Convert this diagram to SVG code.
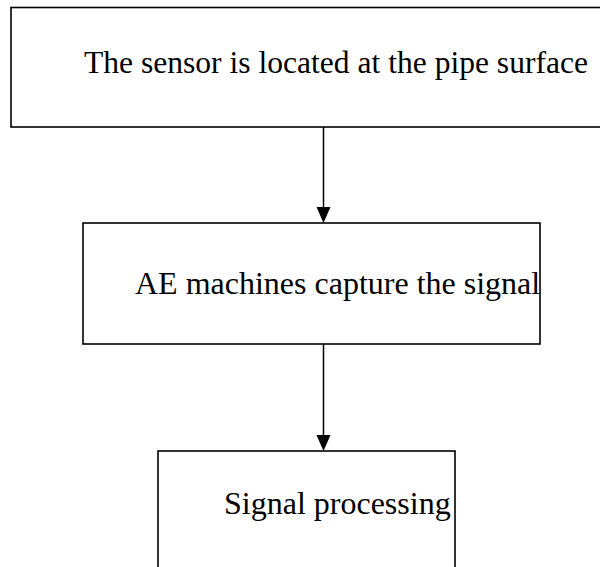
<svg xmlns="http://www.w3.org/2000/svg" width="600" height="567" viewBox="0 0 600 567">
<defs>
<style>
.box{fill:#fff;stroke:#000;stroke-width:1.6}
.lbl{font-family:"Liberation Serif","Times New Roman",serif;font-size:32px;fill:#000}
.conn{stroke:#000;stroke-width:1.5;fill:none}
.head{fill:#000}
</style>
</defs>
<rect width="600" height="567" fill="#fff"/>
<g id="node-sensor">
<rect class="box" x="11" y="7.5" width="595" height="119.5"/>
<text class="lbl" x="84" y="73" textLength="504" lengthAdjust="spacingAndGlyphs">The sensor is located at the pipe surface</text>
</g>
<g id="node-ae">
<rect class="box" x="83" y="223" width="457" height="121"/>
<text class="lbl" x="135" y="293.5">AE machines capture the signal</text>
</g>
<g id="node-processing">
<rect class="box" x="158" y="451" width="297" height="130"/>
<text class="lbl" x="224" y="514">Signal processing</text>
</g>
<g id="connectors">
<line class="conn" x1="323.5" y1="127" x2="323.5" y2="208"/>
<polygon class="head" points="316.5,207 330.5,207 323.5,223"/>
<line class="conn" x1="323.5" y1="344" x2="323.5" y2="436"/>
<polygon class="head" points="316.5,435 330.5,435 323.5,451"/>
</g>
</svg>
